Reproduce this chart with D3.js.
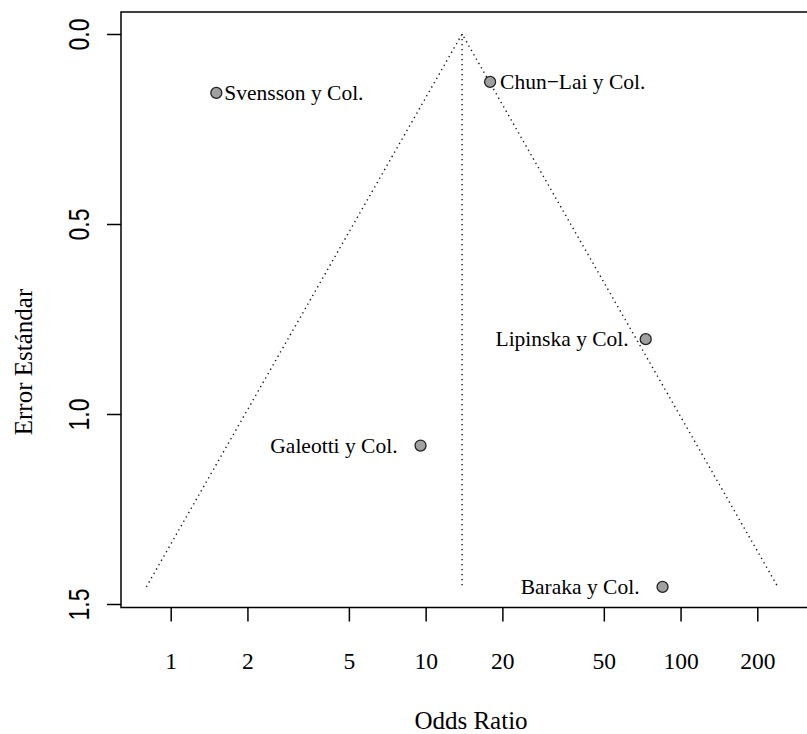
<!DOCTYPE html>
<html>
<head>
<meta charset="utf-8">
<script src="https://cdn.jsdelivr.net/npm/d3@7"></script>
<style>
  html, body { margin: 0; padding: 0; background: #fff; }
  svg { display: block; }
</style>
</head>
<body>
<svg id="chart" width="807" height="734"></svg>
<script>
// ---- data ----
const studies = ["Svensson y Col.", "Chun\u2212Lai y Col.", "Lipinska y Col.", "Galeotti y Col.", "Baraka y Col."];
const oddsRatios = [1.51, 17.9, 73.0, 9.55, 85.0];
const stdErrors = [0.155, 0.126, 0.803, 1.083, 1.455];
const labelSides = ["right", "right", "left", "left", "left"];
const labelGaps = [8, 10, 17, 23, 23];
const pooledOR = 13.9;
const xTicks = [1, 2, 5, 10, 20, 50, 100, 200];
const yTicks = [0, 0.5, 1.0, 1.5];

const serif = "'Liberation Serif', 'Times New Roman', serif";
const sans = "'Liberation Sans', Arial, Helvetica, sans-serif";

const svg = d3.select("#chart");
const box = { left: 121, top: 12, bottom: 607.5, right: 830 };

const x = d3.scaleLog().domain([1, 200]).range([170.7, 757.3]);
const y = d3.scaleLinear().domain([0, 1.5]).range([34, 604]);

// funnel (pseudo-confidence region)
const seMax = d3.max(stdErrors);
const z = 1.96;
const lnC = Math.log(pooledOR);
const funnel = [
  [Math.exp(lnC - z * seMax), seMax],
  [pooledOR, 0],
  [Math.exp(lnC + z * seMax), seMax]
];
const line = d3.line().x(d => x(d[0])).y(d => y(d[1]));
svg.append("path").attr("d", line(funnel))
  .attr("fill", "none").attr("stroke", "#111").attr("stroke-width", 1.4)
  .attr("stroke-dasharray", "1.3,3.7");
svg.append("path").attr("d", line([[pooledOR, 0], [pooledOR, seMax]]))
  .attr("fill", "none").attr("stroke", "#111").attr("stroke-width", 1.4)
  .attr("stroke-dasharray", "1.3,3.7");

// frame
svg.append("path")
  .attr("d", `M${box.right},${box.top}H${box.left}V${box.bottom}H${box.right}`)
  .attr("fill", "none").attr("stroke", "#000").attr("stroke-width", 1.5);

// y axis
const yAxis = svg.append("g").attr("transform", `translate(${box.left},0)`)
  .call(d3.axisLeft(y).tickValues(yTicks).tickFormat(d3.format(".1f")).tickSize(14).tickPadding(0));
yAxis.select(".domain").remove();
yAxis.selectAll(".tick line").attr("stroke", "#000").attr("stroke-width", 1.5);
yAxis.selectAll(".tick text")
  .attr("x", 0).attr("dy", null).attr("text-anchor", "middle")
  .attr("transform", "translate(-32,0) rotate(-90) scale(1,1.28)")
  .style("font-family", sans).style("font-size", "23px").attr("fill", "#000");

// x axis
const xAxis = svg.append("g").attr("transform", `translate(0,${box.bottom})`)
  .call(d3.axisBottom(x).tickValues(xTicks).tickFormat(d3.format("d")).tickSize(14).tickPadding(0));
xAxis.select(".domain").remove();
xAxis.selectAll(".tick line").attr("stroke", "#000").attr("stroke-width", 1.5);
xAxis.selectAll(".tick text")
  .attr("y", 61.5).attr("dy", null)
  .style("font-family", serif).style("font-size", "23.5px").attr("fill", "#000");

// axis titles
svg.append("text").attr("x", 471).attr("y", 729).attr("text-anchor", "middle")
  .style("font-family", serif).style("font-size", "25px").text("Odds Ratio");
svg.append("text").attr("transform", "translate(32,362) rotate(-90)").attr("text-anchor", "middle")
  .style("font-family", serif).style("font-size", "25px").text("Error Est\u00e1ndar");

// points
const data = studies.map((s, i) => ({ s, or: oddsRatios[i], se: stdErrors[i], side: labelSides[i], gap: labelGaps[i] }));
svg.append("g").selectAll("circle").data(data).join("circle")
  .attr("cx", d => x(d.or)).attr("cy", d => y(d.se)).attr("r", 5.5)
  .attr("fill", "#a0a0a0").attr("stroke", "#222").attr("stroke-width", 1.3);

svg.append("g").selectAll("text").data(data).join("text")
  .attr("x", d => x(d.or) + (d.side === "right" ? d.gap : -d.gap))
  .attr("y", d => y(d.se) + 7)
  .attr("text-anchor", d => d.side === "right" ? "start" : "end")
  .style("font-family", serif).style("font-size", "21.5px").attr("fill", "#000")
  .text(d => d.s);
</script>
</body>
</html>
